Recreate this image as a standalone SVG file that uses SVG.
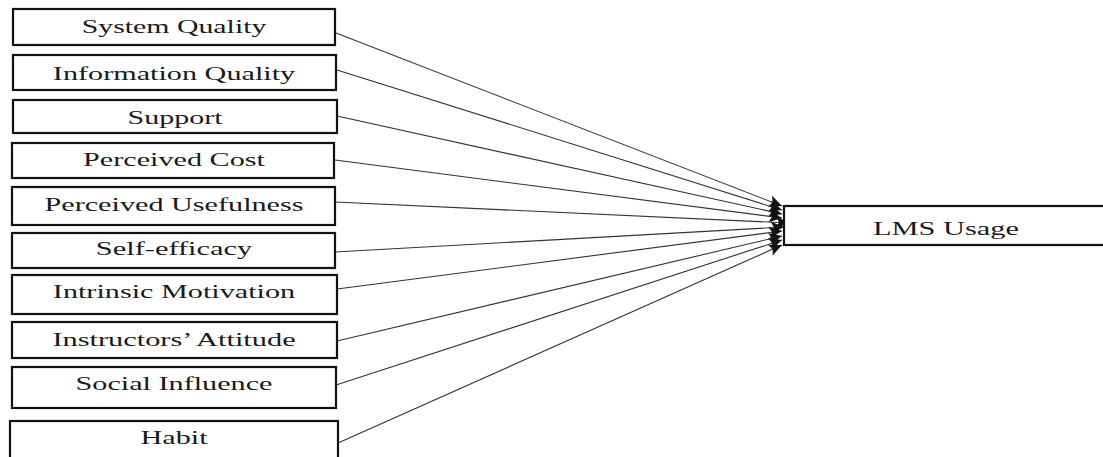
<svg xmlns="http://www.w3.org/2000/svg" width="1103" height="457" viewBox="0 0 1103 457">
<style>
.box{fill:#fff;stroke:#111;stroke-width:2.2}
.lbl{font-family:"Liberation Serif","Times New Roman",serif;font-size:19px;fill:#1a1a1a;text-anchor:middle}
.con{stroke:#333;stroke-width:1.1;fill:none;marker-end:url(#ah)}
</style>
<defs>
<marker id="ah" markerUnits="userSpaceOnUse" markerWidth="14" markerHeight="12" refX="13" refY="6" orient="auto">
<path d="M0,0 L13,6 L0,12 L3,6 Z" fill="#111"/>
</marker>
</defs>
<rect width="1103" height="457" fill="#fff"/>
<g id="connectors">
<line class="con" x1="336" y1="33" x2="782" y2="206"/>
<line class="con" x1="337" y1="70" x2="782" y2="210"/>
<line class="con" x1="337" y1="116" x2="782" y2="214"/>
<line class="con" x1="335" y1="160" x2="782" y2="218"/>
<line class="con" x1="335" y1="202" x2="789" y2="223"/>
<line class="con" x1="335" y1="252" x2="784" y2="227"/>
<line class="con" x1="337" y1="289" x2="782" y2="231"/>
<line class="con" x1="337" y1="341" x2="782" y2="236"/>
<line class="con" x1="336" y1="385" x2="782" y2="240"/>
<line class="con" x1="338" y1="443" x2="782" y2="245"/>
</g>
<g id="n-system-quality"><rect class="box" x="13" y="9" width="322" height="36"/><text class="lbl" transform="translate(174,33) scale(1.57,1)">System Quality</text></g>
<g id="n-information-quality"><rect class="box" x="13" y="55" width="323" height="35"/><text class="lbl" transform="translate(174,80) scale(1.59,1)">Information Quality</text></g>
<g id="n-support"><rect class="box" x="13" y="100" width="324" height="33"/><text class="lbl" transform="translate(175,124) scale(1.58,1)">Support</text></g>
<g id="n-perceived-cost"><rect class="box" x="12" y="143" width="322" height="35"/><text class="lbl" transform="translate(174,166) scale(1.59,1)">Perceived Cost</text></g>
<g id="n-perceived-usefulness"><rect class="box" x="12" y="187" width="323" height="38"/><text class="lbl" transform="translate(174,211) scale(1.59,1)">Perceived Usefulness</text></g>
<g id="n-self-efficacy"><rect class="box" x="12" y="233" width="323" height="35"/><text class="lbl" transform="translate(174,255) scale(1.6,1)">Self-efficacy</text></g>
<g id="n-intrinsic-motivation"><rect class="box" x="12" y="275" width="325" height="39"/><text class="lbl" transform="translate(174,298) scale(1.59,1)">Intrinsic Motivation</text></g>
<g id="n-instructors-attitude"><rect class="box" x="12" y="322" width="325" height="36"/><text class="lbl" transform="translate(174,346) scale(1.6,1)">Instructors’ Attitude</text></g>
<g id="n-social-influence"><rect class="box" x="12" y="367" width="324" height="41"/><text class="lbl" transform="translate(174,390) scale(1.59,1)">Social Influence</text></g>
<g id="n-habit"><rect class="box" x="10" y="421" width="328" height="45"/><text class="lbl" transform="translate(174,444) scale(1.59,1)">Habit</text></g>
<g id="n-lms-usage"><rect class="box" x="784" y="206" width="330" height="39"/><text class="lbl" transform="translate(946,235) scale(1.6,1)">LMS Usage</text></g>
</svg>
